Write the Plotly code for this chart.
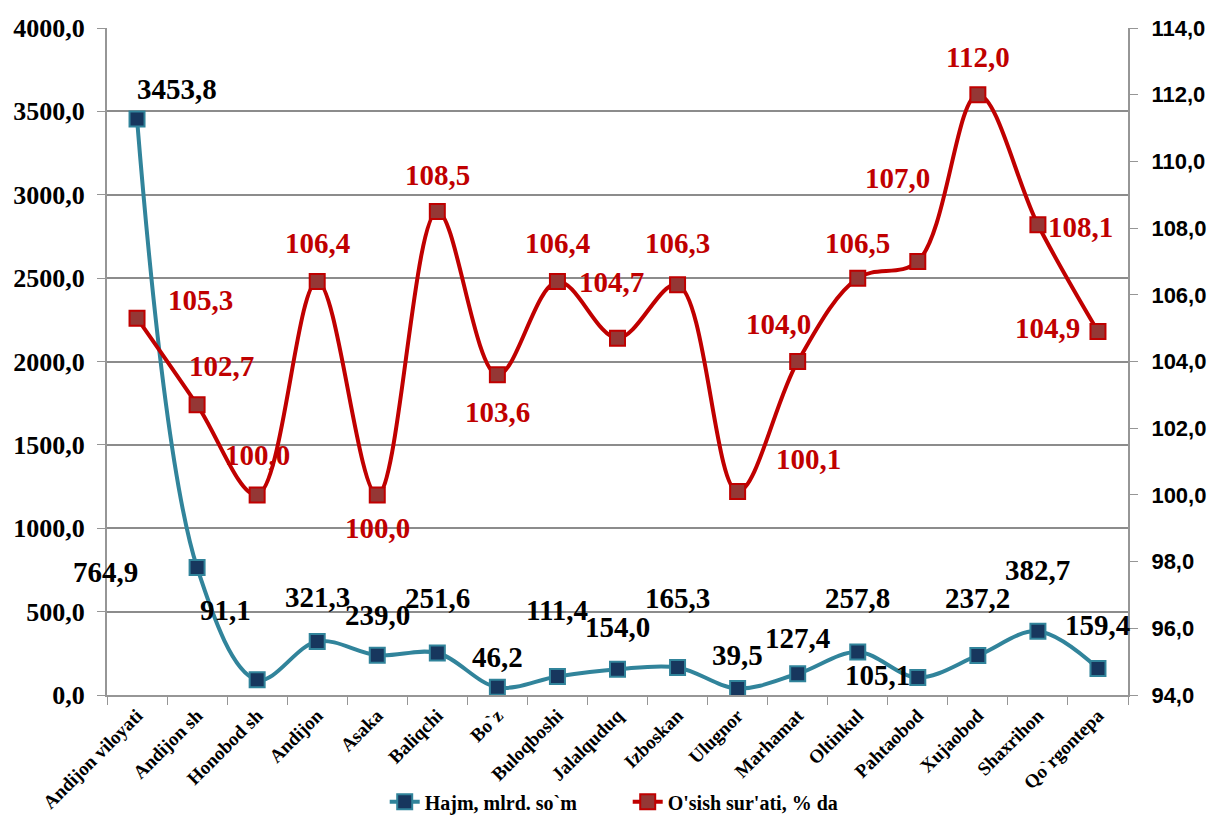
import plotly.graph_objects as go

categories = ["Andijon viloyati", "Andijon sh", "Honobod sh", "Andijon", "Asaka", "Baliqchi",
              "Bo`z", "Buloqboshi", "Jalalquduq", "Izboskan", "Ulugnor", "Marhamat",
              "Oltinkul", "Pahtaobod", "Xujaobod", "Shaxrihon", "Qo`rgontepa"]
hajm = [3453.8, 764.9, 91.1, 321.3, 239.0, 251.6, 46.2, 111.4, 154.0, 165.3, 39.5,
        127.4, 257.8, 105.1, 237.2, 382.7, 159.4]
osish = [105.3, 102.7, 100.0, 106.4, 100.0, 108.5, 103.6, 106.4, 104.7, 106.3, 100.1,
         104.0, 106.5, 107.0, 112.0, 108.1, 104.9]

# label offsets in pixels (style only)
hajm_off = [(40, 30), (-92, -5), (-32, 70), (0, 44), (0, 40), (0, 55), (0, 30), (0, 66),
            (0, 42), (0, 69), (0, 33), (0, 36), (0, 54), (-40, 2), (0, 57), (0, 61), (0, 43)]
osish_off = [(63, 18), (24, 39), (0, 40), (0, 38), (0, -33), (0, 36), (0, -37), (0, 38),
             (-6, 56), (0, 42), (71, 33), (-19, 38), (0, 35), (-20, 83), (0, 38), (43, -2), (-50, 3)]

BLUE_LINE = "#31849B"
BLUE_MARK = "#17375E"
RED_LINE = "#C00000"
RED_MARK = "#953735"
SERIF = "Liberation Serif, Times New Roman, serif"
SANS = "Liberation Sans, Arial, sans-serif"

def fmt(v):
    return f"{v:.1f}".replace(".", ",")

fig = go.Figure()
fig.add_trace(go.Scatter(
    x=categories, y=hajm, name="Hajm, mlrd. so`m", mode="lines+markers",
    line=dict(color=BLUE_LINE, width=4, shape="spline", smoothing=1.0),
    marker=dict(symbol="square", size=15, color=BLUE_MARK, line=dict(color=BLUE_LINE, width=2)),
    yaxis="y"))
fig.add_trace(go.Scatter(
    x=categories, y=osish, name="O'sish sur'ati, % da", mode="lines+markers",
    line=dict(color=RED_LINE, width=4, shape="spline", smoothing=1.0),
    marker=dict(symbol="square", size=15, color=RED_MARK, line=dict(color=RED_LINE, width=2)),
    yaxis="y2"))

annotations = []
for c, v, (dx, dy) in zip(categories, hajm, hajm_off):
    annotations.append(dict(x=c, y=v, xref="x", yref="y", text=fmt(v), showarrow=False,
                            xshift=dx, yshift=dy,
                            font=dict(family=SERIF, size=29, color="#000000", weight="bold")))
for c, v, (dx, dy) in zip(categories, osish, osish_off):
    annotations.append(dict(x=c, y=v, xref="x", yref="y2", text=fmt(v), showarrow=False,
                            xshift=dx, yshift=dy,
                            font=dict(family=SERIF, size=29, color=RED_LINE, weight="bold")))

fig.update_layout(
    width=1218, height=822,
    margin=dict(l=99, r=98, t=20, b=135, autoexpand=False),
    plot_bgcolor="white", paper_bgcolor="white",
    separators=",.",
    showlegend=True,
    legend=dict(orientation="h", x=0.51, xanchor="center", y=-0.16, yanchor="middle",
                entrywidth=198, entrywidthmode="pixels",
                font=dict(family=SERIF, size=20, color="#000000", weight="bold"),
                bgcolor="rgba(0,0,0,0)"),
    xaxis=dict(type="category", tickangle=-45, tickson="boundaries", ticks="outside",
               ticklen=8, tickcolor="#969696", showline=True, linecolor="#969696", linewidth=2,
               showgrid=False, tickfont=dict(family=SERIF, size=19, color="#000000", weight="bold"),
               range=[-0.5, len(categories) - 0.5]),
    yaxis=dict(range=[0, 4000], dtick=500, tickformat=".1f", showgrid=True, gridcolor="#8c8c8c",
               gridwidth=1.5, showline=True, linecolor="#969696", linewidth=2, ticks="outside",
               ticklen=8, tickcolor="#969696", zeroline=False, ticklabelstandoff=7,
               tickfont=dict(family=SERIF, size=26, color="#000000", weight="bold")),
    yaxis2=dict(range=[94, 114], dtick=2, tickformat=".1f", overlaying="y", side="right",
                showgrid=False, showline=True, linecolor="#969696", linewidth=2, ticks="outside",
                ticklen=8, tickcolor="#969696", zeroline=False, ticklabelstandoff=9,
                tickfont=dict(family=SANS, size=22, color="#000000", weight="bold")),
    annotations=annotations,
)

fig.write_html("out.html")
